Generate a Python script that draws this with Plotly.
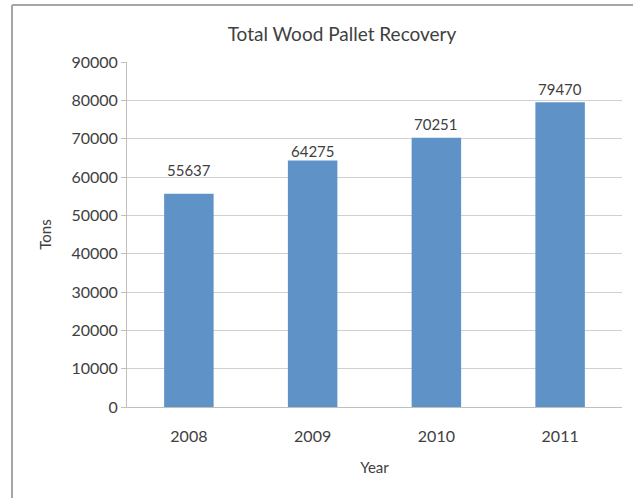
import plotly.graph_objects as go

years = ["2008", "2009", "2010", "2011"]
tons = [55637, 64275, 70251, 79470]
y_ticks = [0, 10000, 20000, 30000, 40000, 50000, 60000, 70000, 80000, 90000]

# styling: vertical offset (px) of each value label above its bar, as in the reference
label_gaps = [14, 0, 4, 3]

W, H = 633, 498
L, R, T, B = 127, 11, 62, 91
pw, ph = W - L - R, H - T - B

def px_x(x):
    return (x - L) / pw

def px_y(y):
    return (H - B - y) / ph

fig = go.Figure(go.Bar(
    x=years, y=tons,
    marker=dict(color="#5f93c8", line=dict(width=0)),
    hoverinfo="x+y",
))

# category axis: annotations are placed by category index
annotations = [
    dict(x=i, y=v, xref="x", yref="y", text=str(v), showarrow=False,
         yanchor="bottom", yshift=g, borderpad=0,
         font=dict(color="#404040", size=15, family="Lato"))
    for i, (v, g) in enumerate(zip(tons, label_gaps))
]

fig.update_layout(
    width=W, height=H,
    margin=dict(l=L, r=R, t=T, b=B),
    paper_bgcolor="white", plot_bgcolor="white",
    font=dict(family="Lato", color="#595959", size=15),
    title=dict(text="Total Wood Pallet Recovery", x=342 / W, xanchor="center",
               y=1 - 34 / H, yanchor="middle",
               font=dict(size=19, color="#404040", family="Lato")),
    bargap=0.6,
    showlegend=False,
    annotations=annotations,
    xaxis=dict(type="category", range=[-0.5, len(years) - 0.5],
               showline=True, linecolor="#bfbfbf", linewidth=1,
               ticks="outside", ticklen=15, tickcolor="rgba(0,0,0,0)",
               title=dict(text="Year", standoff=18, font=dict(size=15, color="#404040")),
               tickfont=dict(size=16, color="#404040")),
    yaxis=dict(range=[0, 90000], tickvals=y_ticks, ticktext=[str(v) for v in y_ticks],
               showline=True, linecolor="#bfbfbf", linewidth=1,
               ticks="outside", ticklen=5, tickcolor="#bfbfbf",
               showgrid=True, gridcolor="#d0d0d0", gridwidth=1, zeroline=False,
               title=dict(text="Tons", standoff=16, font=dict(size=15, color="#404040")),
               tickfont=dict(size=16, color="#404040")),
    shapes=[
        dict(type="line", xref="paper", yref="paper", x0=px_x(12), x1=px_x(12),
             y0=px_y(5), y1=px_y(520), line=dict(color="#a6a6a6", width=2)),
        dict(type="line", xref="paper", yref="paper", x0=px_x(12), x1=px_x(650),
             y0=px_y(5), y1=px_y(5), line=dict(color="#a6a6a6", width=2)),
    ],
)

fig.write_html("out.html", config={"displayModeBar": False},
               post_script="document.body.style.margin='0';")
